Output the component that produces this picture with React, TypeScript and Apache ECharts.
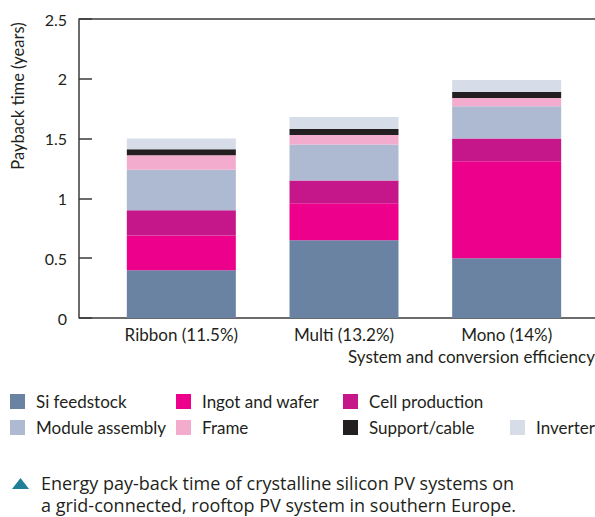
import React, { useEffect, useRef } from "react";
import * as echarts from "echarts";

const categories = ["Ribbon (11.5%)", "Multi (13.2%)", "Mono (14%)"];
const siFeedstock = [0.4, 0.65, 0.5];
const ingotWafer = [0.29, 0.31, 0.81];
const cellProduction = [0.21, 0.19, 0.19];
const moduleAssembly = [0.34, 0.3, 0.27];
const frame = [0.12, 0.08, 0.07];
const supportCable = [0.05, 0.05, 0.05];
const inverter = [0.09, 0.1, 0.1];
const yTicks = [0, 0.5, 1, 1.5, 2, 2.5];

const FONT = "Lato";
const TEXT = "#231f20";

export default function App() {
  const ref = useRef<HTMLDivElement>(null);
  useEffect(() => {
    if (!ref.current) return;
    const chart = echarts.init(ref.current, undefined, { renderer: "svg" });
    const mk = (name: string, data: number[], color: string) => ({
      name,
      type: "bar",
      stack: "total",
      data,
      barWidth: 109,
      itemStyle: { color },
      emphasis: { disabled: true },
    });
    const legendBase = {
      orient: "vertical",
      itemWidth: 15,
      itemHeight: 15,
      itemGap: 9,
      icon: "rect",
      selectedMode: false,
      padding: 0,
      textStyle: { fontFamily: FONT, fontSize: 17, lineHeight: 15, color: TEXT, padding: [0, 0, 0, 6] },
    };
    chart.setOption({
      animation: false,
      textStyle: { fontFamily: FONT },
      grid: { left: 100, width: 488, top: 19, bottom: 199 },
      xAxis: {
        type: "category",
        data: categories,
        axisLine: { show: false },
        axisTick: { show: false },
        axisLabel: { fontFamily: FONT, fontSize: 17, color: TEXT, margin: 8 },
      },
      yAxis: {
        type: "value",
        min: yTicks[0],
        max: yTicks[yTicks.length - 1],
        interval: 0.5,
        offset: 21,
        splitLine: { show: false },
        axisLine: { show: true, lineStyle: { color: "#3a3a3a", width: 1.5 } },
        axisTick: { show: true, inside: true, length: 13, lineStyle: { color: "#3a3a3a", width: 1.5 } },
        axisLabel: { fontFamily: FONT, fontSize: 16, color: TEXT, margin: 12 },
      },
      legend: [
        { ...legendBase, left: 10, top: 393, data: ["Si feedstock", "Module assembly"] },
        { ...legendBase, left: 176, top: 393, data: ["Ingot and wafer", "Frame"] },
        { ...legendBase, left: 343, top: 393, data: ["Cell production", "Support/cable"] },
        { ...legendBase, left: 510, top: 419, data: ["Inverter"] },
      ],
      graphic: [
        { type: "line", shape: { x1: 79, y1: 19, x2: 595, y2: 19 }, style: { stroke: "#3a3a3a", lineWidth: 1.5 } },
        { type: "line", shape: { x1: 79, y1: 318, x2: 595, y2: 318 }, style: { stroke: "#3a3a3a", lineWidth: 1.5 } },
        {
          type: "text",
          x: 18,
          y: 96,
          rotation: Math.PI / 2,
          style: { text: "Payback time (years)", fontFamily: FONT, fontSize: 16.5, fill: TEXT, align: "center", verticalAlign: "middle" },
        },
        {
          type: "text",
          x: 348,
          y: 356,
          style: { text: "System and conversion efficiency", fontFamily: FONT, fontSize: 17, fill: TEXT, align: "left", verticalAlign: "middle" },
        },
        {
          type: "polygon",
          shape: { points: [[12, 489], [20.5, 478], [29, 489]] },
          style: { fill: "#1f7f98" },
        },
        {
          type: "text",
          x: 41,
          y: 483,
          style: { text: "Energy pay-back time of crystalline silicon PV systems on", fontFamily: "Open Sans", fontSize: 18, fill: TEXT, align: "left", verticalAlign: "middle" },
        },
        {
          type: "text",
          x: 41,
          y: 505,
          style: { text: "a grid-connected, rooftop PV system in southern Europe.", fontFamily: "Open Sans", fontSize: 18, fill: TEXT, align: "left", verticalAlign: "middle" },
        },
      ],
      series: [
        mk("Si feedstock", siFeedstock, "#6a83a3"),
        mk("Ingot and wafer", ingotWafer, "#ec008c"),
        mk("Cell production", cellProduction, "#c5168a"),
        mk("Module assembly", moduleAssembly, "#adbad1"),
        mk("Frame", frame, "#f4acce"),
        mk("Support/cable", supportCable, "#231f20"),
        mk("Inverter", inverter, "#d6dde9"),
      ],
    });
    return () => chart.dispose();
  }, []);
  return <div ref={ref} style={{ position: "absolute", left: 0, top: 0, width: 595, height: 517 }} />;
}
